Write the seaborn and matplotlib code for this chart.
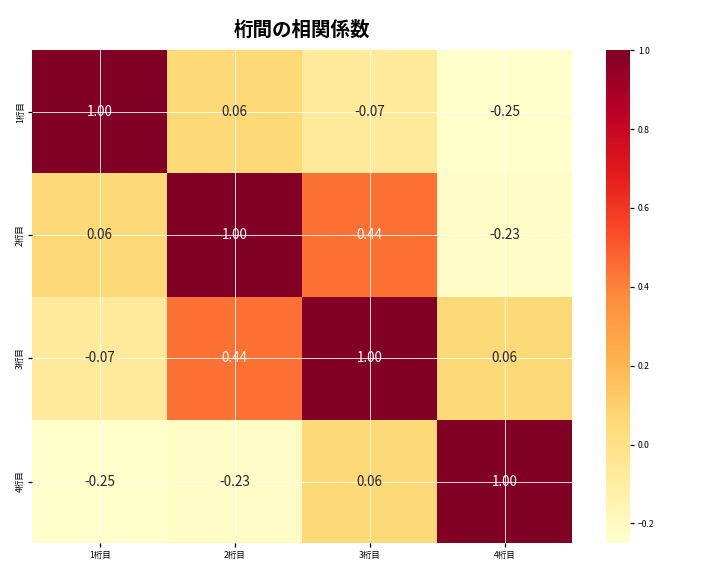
import numpy as np
import pandas as pd
import matplotlib
matplotlib.use("Agg")
import matplotlib.pyplot as plt
import seaborn as sns

labels = ["1桁目", "2桁目", "3桁目", "4桁目"]
row1 = [1.00, 0.06, -0.07, -0.25]
row2 = [0.06, 1.00, 0.44, -0.23]
row3 = [-0.07, 0.44, 1.00, 0.06]
row4 = [-0.25, -0.23, 0.06, 1.00]

sns.set_theme(style="white")
plt.rcParams['font.family'] = ['Noto Sans CJK JP', 'DejaVu Sans']
plt.rcParams['axes.unicode_minus'] = True
plt.rcParams['text.color'] = 'black'
plt.rcParams['xtick.color'] = 'black'
plt.rcParams['ytick.color'] = 'black'
plt.rcParams['axes.labelcolor'] = 'black'

df = pd.DataFrame([row1, row2, row3, row4], index=labels, columns=labels)

fig, ax = plt.subplots(figsize=(10, 8), dpi=72)
sns.heatmap(df, annot=True, fmt=".2f", cmap="YlOrRd", ax=ax,
            annot_kws={"size": 13.5})
ax.set_axisbelow(False)
ax.grid(True, color="white", linewidth=0.8)
for gl in ax.get_xgridlines() + ax.get_ygridlines():
    gl.set_zorder(5)
ax.tick_params(axis="both", labelsize=8.5, length=4, left=True, bottom=True)
ax.set_yticklabels(labels, rotation=90, va="center")
ax.set_xticklabels(labels, rotation=0)
cbar = ax.collections[0].colorbar
cbar.ax.tick_params(labelsize=8.5, length=4)
ax.set_title("桁間の相関係数", fontsize=19.5, fontweight="bold", pad=14)
plt.tight_layout()
fig.subplots_adjust(left=0.045, top=0.913, bottom=0.057)
fig.savefig("out.png", dpi=72)
